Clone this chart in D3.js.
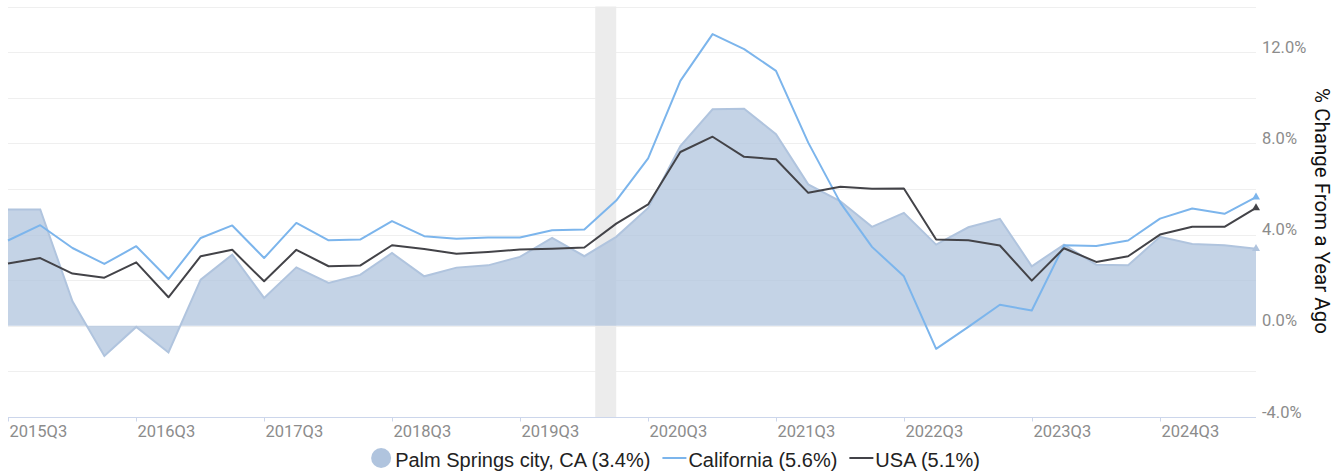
<!DOCTYPE html>
<html>
<head>
<meta charset="utf-8">
<script src="https://cdn.jsdelivr.net/npm/d3@7"></script>
<style>
  body { margin: 0; background: #fff; }
  svg { display: block; }
</style>
</head>
<body>
<script>
const quarters = [
  "2015Q3","2015Q4","2016Q1","2016Q2","2016Q3","2016Q4","2017Q1","2017Q2",
  "2017Q3","2017Q4","2018Q1","2018Q2","2018Q3","2018Q4","2019Q1","2019Q2",
  "2019Q3","2019Q4","2020Q1","2020Q2","2020Q3","2020Q4","2021Q1","2021Q2",
  "2021Q3","2021Q4","2022Q1","2022Q2","2022Q3","2022Q4","2023Q1","2023Q2",
  "2023Q3","2023Q4","2024Q1","2024Q2","2024Q3","2024Q4","2025Q1","2025Q2"
];

const palmSprings = [
  5.1, 5.1, 1.07, -1.32, -0.05, -1.17, 2.02, 3.12, 1.22, 2.56,
  1.88, 2.23, 3.19, 2.17, 2.55, 2.65, 3.02, 3.85, 3.05, 3.9,
  5.17, 7.88, 9.49, 9.52, 8.4, 6.2, 5.46, 4.34, 4.95, 3.56,
  4.32, 4.69, 2.61, 3.56, 2.68, 2.65, 3.9, 3.59, 3.53, 3.38
];

const california = [
  3.74, 4.41, 3.41, 2.71, 3.49, 2.05, 3.85, 4.4, 2.97, 4.51,
  3.75, 3.78, 4.59, 3.93, 3.82, 3.87, 3.87, 4.19, 4.22, 5.49,
  7.34, 10.74, 12.79, 12.13, 11.18, 8.03, 5.39, 3.46, 2.17, -1.01,
  -0.05, 0.92, 0.67, 3.53, 3.5, 3.74, 4.7, 5.14, 4.91, 5.64
];

const usa = [
  2.73, 2.97, 2.29, 2.11, 2.78, 1.25, 3.05, 3.33, 1.95, 3.33,
  2.61, 2.64, 3.53, 3.37, 3.16, 3.24, 3.34, 3.38, 3.43, 4.48,
  5.32, 7.62, 8.29, 7.41, 7.3, 5.83, 6.1, 6.01, 6.02, 3.78,
  3.75, 3.52, 1.98, 3.4, 2.8, 3.05, 4.0, 4.34, 4.34, 5.17
];

const recession = ["2020-02-01", "2020-04-01"];
const yTicks = [-4, 0, 4, 8, 12];
const yGrid = [-2, 0, 2, 4, 6, 8, 10, 12, 14];
const legendItems = [
  { name: "Palm Springs city, CA (3.4%)", kind: "area" },
  { name: "California (5.6%)", kind: "line", color: "#7cb5ec" },
  { name: "USA (5.1%)", kind: "line", color: "#434348" }
];

const W = 1344, H = 475;
const plot = { left: 8, right: 1256, top: 6.5, bottom: 417 };

// "2015Q3" -> date at start of quarter
function qDate(q) {
  const yr = +q.slice(0, 4), qn = +q.slice(5);
  return new Date(Date.UTC(yr, (qn - 1) * 3, 1));
}

const data = quarters.map((q, i) => ({
  q: q, date: qDate(q), ps: palmSprings[i], ca: california[i], us: usa[i]
}));

const x = d3.scaleUtc()
  .domain([data[0].date, data[data.length - 1].date])
  .range([plot.left, plot.right]);

const y = d3.scaleLinear()
  .domain([-4, 14])
  .range([plot.bottom, plot.top]);

const svg = d3.select("body").append("svg")
  .attr("width", W)
  .attr("height", H);

// gridlines
svg.append("g")
  .selectAll("line")
  .data(yGrid)
  .enter().append("line")
    .attr("x1", plot.left)
    .attr("x2", plot.right)
    .attr("y1", d => Math.round(y(d)) + 0.5)
    .attr("y2", d => Math.round(y(d)) + 0.5)
    .attr("stroke", "#efefef")
    .attr("stroke-width", 1);

// recession band
const rx0 = x(new Date(recession[0])), rx1 = x(new Date(recession[1]));
svg.append("rect")
  .attr("x", rx0)
  .attr("y", y(14))
  .attr("width", rx1 - rx0)
  .attr("height", y(-4) - y(14))
  .attr("fill", "#ececec");

// area
const area = d3.area()
  .x(d => x(d.date))
  .y0(y(0))
  .y1(d => y(d.ps));

svg.append("path")
  .datum(data)
  .attr("d", area)
  .attr("fill", "#b0c4de")
  .attr("fill-opacity", 0.75);

svg.append("path")
  .datum(data)
  .attr("d", d3.line().x(d => x(d.date)).y(d => y(d.ps)))
  .attr("fill", "none")
  .attr("stroke", "#b0c4de")
  .attr("stroke-width", 2);

// lines
const series = [
  { key: "ca", color: "#7cb5ec" },
  { key: "us", color: "#434348" }
];

series.forEach(s => {
  svg.append("path")
    .datum(data)
    .attr("d", d3.line().x(d => x(d.date)).y(d => y(d[s.key])))
    .attr("fill", "none")
    .attr("stroke", s.color)
    .attr("stroke-width", 2)
    .attr("stroke-linejoin", "round");
});

// last point markers
const last = data[data.length - 1];
[["ps", "#b0c4de"], ["ca", "#7cb5ec"], ["us", "#434348"]].forEach(([k, c]) => {
  svg.append("path")
    .attr("d", d3.symbol().type(d3.symbolTriangle).size(28)())
    .attr("transform", "translate(" + x(last.date) + "," + y(last[k]) + ")")
    .attr("fill", c);
});

// x axis
const xTickQs = quarters.filter(q => q.endsWith("Q3"));
const xAxis = svg.append("g")
  .attr("transform", "translate(0," + (plot.bottom + 0.5) + ")");

xAxis.append("line")
  .attr("x1", plot.left)
  .attr("x2", plot.right)
  .attr("stroke", "#ccd6eb");

const xt = xAxis.selectAll(".tick")
  .data(xTickQs)
  .enter().append("g")
    .attr("class", "tick")
    .attr("transform", d => "translate(" + (Math.round(x(qDate(d))) + 0.5) + ",0)");

xt.append("line")
  .attr("y2", 4)
  .attr("stroke", "#ccd6eb");

xt.append("text")
  .attr("x", 1)
  .attr("y", 19.5)
  .attr("font-family", "Roboto, sans-serif")
  .attr("font-size", "16.5px")
  .attr("fill", "#8c8c8c")
  .text(d => d);

// y axis labels (right side)
svg.append("g")
  .selectAll("text")
  .data(yTicks)
  .enter().append("text")
    .attr("x", 1262)
    .attr("y", d => y(d) + 0.5)
    .attr("font-family", "Roboto, sans-serif")
    .attr("font-size", "16.5px")
    .attr("fill", "#8c8c8c")
    .text(d => d.toFixed(1) + "%");

svg.append("text")
  .attr("transform", "translate(1315,211) rotate(90)")
  .attr("text-anchor", "middle")
  .attr("font-family", "Roboto, sans-serif")
  .attr("font-size", "20.5px")
  .attr("fill", "#111")
  .text("% Change From a Year Ago");

// legend
const legend = svg.append("g");
let cx = 0;
legendItems.forEach((item, i) => {
  const g = legend.append("g").attr("transform", "translate(" + cx + ",0)");
  let tx;
  if (item.kind === "area") {
    g.append("circle")
      .attr("cx", 10).attr("cy", 0).attr("r", 10)
      .attr("fill", "#b0c4de");
    tx = 24;
  } else {
    g.append("line")
      .attr("x1", 0).attr("x2", 24)
      .attr("y1", 0).attr("y2", 0)
      .attr("stroke", item.color)
      .attr("stroke-width", 2);
    tx = 26;
  }
  const t = g.append("text")
    .attr("x", tx)
    .attr("y", 9)
    .attr("font-family", "'Liberation Sans', Arial, sans-serif")
    .attr("font-size", "20px")
    .attr("fill", "#222")
    .text(item.name);
  cx += tx + t.node().getComputedTextLength() + 12;
});
const legendW = cx - 12;
legend.attr("transform", "translate(" + (675.5 - legendW / 2) + ",458)");
</script>
</body>
</html>
